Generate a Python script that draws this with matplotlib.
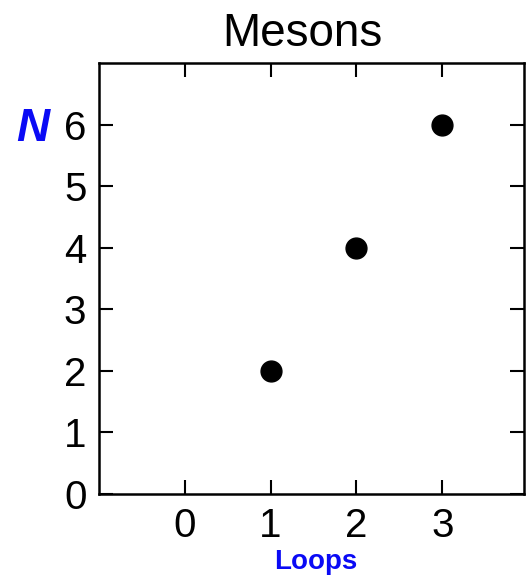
import matplotlib
matplotlib.use("Agg")
import matplotlib.pyplot as plt

plt.rcParams['font.family'] = ['Liberation Sans', 'DejaVu Sans']

loops = [1, 2, 3]
n_vals = [2, 4, 6]
xticks = [0, 1, 2, 3]
yticks = [0, 1, 2, 3, 4, 5, 6]

fig = plt.figure(figsize=(5.26, 5.78), dpi=100)
ax = fig.add_axes([0.188, 0.1453, 0.808, 0.7457])

ax.plot(loops, n_vals, 'o', color='black', markersize=15)

ax.set_xlim(-1, 3.95)
ax.set_ylim(0, 7)
ax.set_xticks(xticks)
ax.set_yticks(yticks)
ax.tick_params(direction='in', length=10, width=1.5, top=True, right=True,
               labelsize=29, pad=9)
for s in ax.spines.values():
    s.set_linewidth(1.8)

ax.set_title('Mesons', fontsize=33, pad=12, x=0.478)
fig.text(0.60, 0.027, 'Loops', color='#0a0af5', fontsize=20,
         fontweight='bold', ha='center', va='center')
fig.text(0.062, 0.776, 'N', color='#0a0af5', fontsize=33,
         fontweight='bold', style='italic', ha='center', va='center')

fig.savefig('out.png', dpi=100)
